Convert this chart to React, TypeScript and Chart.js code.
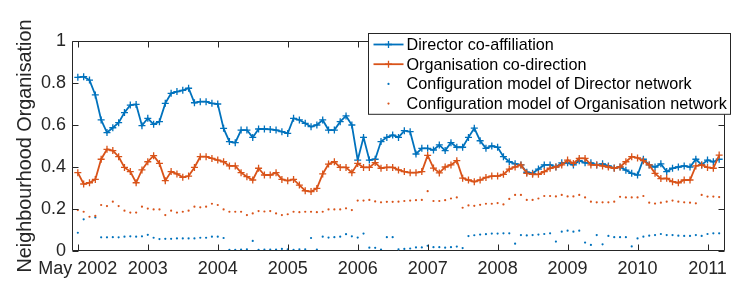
import React, { useEffect, useRef } from 'react';
import { Chart, registerables } from 'chart.js';

Chart.register(...registerables);

// ---- data (monthly index, May 2002 = 0) ----
const xTickIndex = [0, 12, 24, 36, 48, 60, 72, 84, 96, 108];
const xTickLabels = ['May 2002', '2003', '2004', '2005', '2006', '2007', '2008', '2009', '2010', '2011'];
const yTickValues = [0, 0.2, 0.4, 0.6, 0.8, 1];

const seriesLabels = [
  'Director co-affiliation',
  'Organisation co-direction',
  'Configuration model of Director network',
  'Configuration model of Organisation network',
];

const directorCoAffiliation = [
  0.827, 0.830, 0.814, 0.743, 0.624, 0.564, 0.587, 0.611, 0.659, 0.695,
  0.698, 0.597, 0.632, 0.603, 0.616, 0.703, 0.751, 0.759, 0.765, 0.775,
  0.706, 0.711, 0.711, 0.703, 0.700, 0.584, 0.521, 0.516, 0.576, 0.576,
  0.541, 0.581, 0.581, 0.579, 0.576, 0.568, 0.560, 0.632, 0.624, 0.608,
  0.592, 0.600, 0.624, 0.576, 0.576, 0.616, 0.643, 0.600, 0.433, 0.541,
  0.433, 0.437, 0.521, 0.541, 0.552, 0.541, 0.573, 0.568, 0.462, 0.489,
  0.489, 0.481, 0.505, 0.478, 0.516, 0.494, 0.494, 0.541, 0.585, 0.525,
  0.489, 0.500, 0.494, 0.449, 0.425, 0.415, 0.410, 0.375, 0.370, 0.390,
  0.410, 0.410, 0.400, 0.420, 0.420, 0.410, 0.430, 0.420, 0.420, 0.410,
  0.415, 0.405, 0.395, 0.400, 0.385, 0.370, 0.362, 0.437, 0.410, 0.400,
  0.415, 0.378, 0.394, 0.400, 0.405, 0.400, 0.437, 0.410, 0.433, 0.425,
  0.437,
];

const organisationCoDirection = [
  0.373, 0.319, 0.325, 0.341, 0.437, 0.484, 0.478, 0.449, 0.398, 0.378,
  0.325, 0.386, 0.425, 0.454, 0.417, 0.335, 0.378, 0.367, 0.351, 0.357,
  0.398, 0.449, 0.449, 0.441, 0.433, 0.425, 0.405, 0.405, 0.373, 0.354,
  0.338, 0.394, 0.362, 0.362, 0.373, 0.341, 0.335, 0.341, 0.314, 0.287,
  0.283, 0.298, 0.367, 0.414, 0.425, 0.398, 0.398, 0.373, 0.417, 0.398,
  0.398, 0.421, 0.394, 0.398, 0.398, 0.386, 0.378, 0.373, 0.373, 0.378,
  0.455, 0.395, 0.372, 0.400, 0.410, 0.430, 0.347, 0.338, 0.330, 0.338,
  0.350, 0.357, 0.357, 0.365, 0.390, 0.400, 0.410, 0.370, 0.365, 0.365,
  0.378, 0.394, 0.400, 0.410, 0.433, 0.417, 0.441, 0.441, 0.410, 0.410,
  0.405, 0.400, 0.394, 0.400, 0.425, 0.449, 0.443, 0.430, 0.410, 0.370,
  0.345, 0.346, 0.330, 0.325, 0.338, 0.338, 0.405, 0.410, 0.398, 0.394,
  0.457,
];

const configDirector = [
  0.087, 0.151, null, 0.160, 0.065, 0.065, 0.066, 0.065, 0.068, 0.070,
  0.068, 0.070, 0.077, 0.063, 0.057, 0.058, 0.058, 0.060, 0.060, 0.060,
  0.060, 0.063, 0.063, 0.068, 0.068, 0.062, 0.005, 0.005, 0.007, 0.008,
  0.048, 0.005, 0.007, 0.007, 0.007, 0.010, 0.008, 0.006, 0.008, 0.008,
  0.062, 0.007, 0.068, 0.064, 0.066, 0.068, 0.080, 0.070, 0.064, 0.083,
  0.016, 0.015, 0.007, 0.066, 0.066, 0.008, 0.010, 0.012, 0.017, 0.017,
  0.025, 0.018, 0.018, 0.016, 0.018, 0.021, 0.014, 0.071, 0.075, 0.078,
  0.080, 0.083, 0.083, 0.084, 0.084, 0.035, 0.076, 0.074, 0.076, 0.078,
  0.081, 0.084, 0.045, 0.092, 0.097, 0.092, 0.097, 0.040, 0.029, 0.076,
  0.032, 0.072, 0.066, 0.066, 0.066, 0.022, 0.060, 0.068, 0.073, 0.076,
  0.081, 0.076, 0.076, 0.073, 0.072, 0.072, 0.076, 0.072, 0.081, 0.084,
  0.084,
];

const configOrganisation = [
  0.195, 0.187, 0.163, 0.167, 0.219, 0.214, 0.235, 0.214, 0.192, 0.183,
  0.183, 0.211, 0.202, 0.198, 0.198, 0.171, 0.192, 0.183, 0.187, 0.192,
  0.211, 0.208, 0.211, 0.225, 0.219, 0.198, 0.187, 0.187, 0.187, 0.171,
  0.179, 0.190, 0.188, 0.190, 0.179, 0.171, 0.175, 0.187, 0.185, 0.187,
  0.187, 0.185, 0.187, 0.198, 0.198, 0.198, 0.203, 0.195, 0.240, 0.240,
  0.243, 0.236, 0.232, 0.234, 0.234, 0.235, 0.238, 0.240, 0.242, 0.243,
  0.285, 0.238, 0.238, 0.242, 0.250, 0.255, 0.206, 0.217, 0.215, 0.220,
  0.225, 0.225, 0.228, 0.222, 0.248, 0.267, 0.267, 0.243, 0.243, 0.250,
  0.262, 0.262, 0.260, 0.267, 0.260, 0.260, 0.267, 0.255, 0.235, 0.232,
  0.232, 0.232, 0.235, 0.258, 0.255, 0.255, 0.255, 0.262, 0.230, 0.226,
  0.230, 0.235, 0.240, 0.235, 0.232, 0.230, 0.227, 0.267, 0.259, 0.259,
  0.257,
];

const BLUE = '#0072BD';
const ORANGE = '#D95319';
const AXIS = '#262626';
const FONT = '"Liberation Sans", Arial, Helvetica, sans-serif';

const toPoints = (arr: (number | null)[]) => arr.map((y, i) => ({ x: i, y }));

const framePlugin = {
  id: 'matlabFrame',
  afterDatasetsDraw(chart: any) {
    const { ctx, chartArea: a, scales } = chart;
    const xs = scales.x;
    const ys = scales.y;
    const L = Math.round(a.left) + 0.5;
    const R = Math.round(a.right) - 0.5;
    const T = Math.round(a.top) + 0.5;
    const B = Math.round(a.bottom) - 0.5;
    const tl = 6;
    ctx.save();
    ctx.strokeStyle = AXIS;
    ctx.lineWidth = 1;
    ctx.beginPath();
    ctx.moveTo(L, T); ctx.lineTo(R, T); ctx.lineTo(R, B); ctx.lineTo(L, B); ctx.closePath();
    xTickIndex.forEach((v) => {
      const x = Math.round(xs.getPixelForValue(v)) + 0.5;
      ctx.moveTo(x, B); ctx.lineTo(x, B - tl);
      ctx.moveTo(x, T); ctx.lineTo(x, T + tl);
    });
    yTickValues.forEach((v) => {
      const y = Math.round(ys.getPixelForValue(v)) + 0.5;
      ctx.moveTo(L, y); ctx.lineTo(L + tl, y);
      ctx.moveTo(R, y); ctx.lineTo(R - tl, y);
    });
    ctx.stroke();
    ctx.restore();
  },
  afterDraw(chart: any) {
    const { ctx, chartArea: a } = chart;
    const ds = chart.data.datasets;
    ctx.save();
    ctx.font = `16.2px ${FONT}`;
    const textW = Math.max(...ds.map((d: any) => ctx.measureText(d.label).width));
    const rowH = 19.7;
    const right = Math.round(a.right + 5) + 0.5;
    const top = Math.round(a.top - 8) + 0.5;
    const width = textW + 42;
    const left = Math.round(right - width) + 0.5;
    const height = rowH * ds.length + 2;
    ctx.fillStyle = '#ffffff';
    ctx.fillRect(left, top, right - left, height);
    ctx.strokeStyle = AXIS;
    ctx.lineWidth = 1;
    ctx.strokeRect(left, top, right - left, height);
    ds.forEach((d: any, k: number) => {
      const cy = top + 11 + k * rowH;
      const x0 = left + 5;
      const x1 = left + 35;
      const cx = (x0 + x1) / 2;
      const c = d.borderColor;
      if (d.showLine !== false) {
        ctx.strokeStyle = c;
        ctx.lineWidth = d.borderWidth;
        ctx.beginPath();
        ctx.moveTo(x0, cy); ctx.lineTo(x1, cy);
        ctx.stroke();
        ctx.lineWidth = d.pointBorderWidth;
        ctx.beginPath();
        ctx.moveTo(cx - d.pointRadius, cy); ctx.lineTo(cx + d.pointRadius, cy);
        ctx.moveTo(cx, cy - d.pointRadius); ctx.lineTo(cx, cy + d.pointRadius);
        ctx.stroke();
      } else {
        ctx.fillStyle = c;
        ctx.beginPath();
        ctx.arc(cx, cy, d.pointRadius, 0, Math.PI * 2);
        ctx.fill();
      }
      ctx.fillStyle = '#000000';
      ctx.textBaseline = 'middle';
      ctx.textAlign = 'left';
      ctx.fillText(d.label, left + 38, cy + 1);
    });
    ctx.restore();
  },
};

export default function App() {
  const canvasRef = useRef<HTMLCanvasElement | null>(null);

  useEffect(() => {
    document.body.style.margin = '0';
    const canvas = canvasRef.current;
    if (!canvas) return;
    const lineDs = (label: string, data: number[], color: string, order: number) => ({
      label,
      data: toPoints(data),
      borderColor: color,
      backgroundColor: color,
      borderWidth: 1.8,
      pointStyle: 'cross',
      pointRadius: 3.5,
      pointBorderWidth: 1.3,
      pointBorderColor: color,
      pointBackgroundColor: color,
      showLine: true,
      tension: 0,
      order,
    });
    const dotDs = (label: string, data: (number | null)[], color: string, order: number) => ({
      label,
      data: toPoints(data),
      borderColor: color,
      backgroundColor: color,
      borderWidth: 0,
      pointStyle: 'circle',
      pointRadius: 1.1,
      pointBorderWidth: 0,
      pointBackgroundColor: color,
      showLine: false,
      order,
    });
    const chart = new Chart(canvas, {
      type: 'line',
      data: {
        datasets: [
          lineDs(seriesLabels[0], directorCoAffiliation, BLUE, 3),
          lineDs(seriesLabels[1], organisationCoDirection, ORANGE, 2),
          dotDs(seriesLabels[2], configDirector, BLUE, 1),
          dotDs(seriesLabels[3], configOrganisation, ORANGE, 0),
        ] as any,
      },
      options: {
        animation: false,
        responsive: false,
        devicePixelRatio: 1,
        layout: { padding: { left: 0, top: 41, right: 24, bottom: 0 } },
        plugins: { legend: { display: false }, tooltip: { enabled: false } },
        scales: {
          x: {
            type: 'linear',
            min: -1,
            max: 111,
            grid: { display: false, drawTicks: false },
            border: { display: false },
            afterBuildTicks: (scale: any) => {
              scale.ticks = xTickIndex.map((v) => ({ value: v }));
            },
            afterFit: (scale: any) => { scale.height = 50; },
            ticks: {
              autoSkip: false,
              maxRotation: 0,
              minRotation: 0,
              padding: 7,
              color: AXIS,
              font: { family: FONT, size: 18 },
              callback: (v: any) => xTickLabels[xTickIndex.indexOf(Number(v))] ?? '',
            },
          },
          y: {
            type: 'linear',
            min: 0,
            max: 1,
            grid: { display: false, drawTicks: false },
            border: { display: false },
            afterBuildTicks: (scale: any) => {
              scale.ticks = yTickValues.map((v) => ({ value: v }));
            },
            afterFit: (scale: any) => { scale.width = 72; },
            ticks: {
              padding: 6,
              color: AXIS,
              font: { family: FONT, size: 18 },
              callback: (v: any) => String(Number(v)),
            },
            title: {
              display: true,
              text: 'Neighbourhood Organisation',
              color: AXIS,
              font: { family: FONT, size: 19.8 },
              padding: { top: 14, bottom: 0 },
            },
          },
        },
      },
      plugins: [framePlugin],
    } as any);
    return () => chart.destroy();
  }, []);

  return (
    <div style={{ width: 749, height: 301, background: '#ffffff' }}>
      <canvas ref={canvasRef} width={749} height={301} style={{ display: 'block' }} />
    </div>
  );
}
